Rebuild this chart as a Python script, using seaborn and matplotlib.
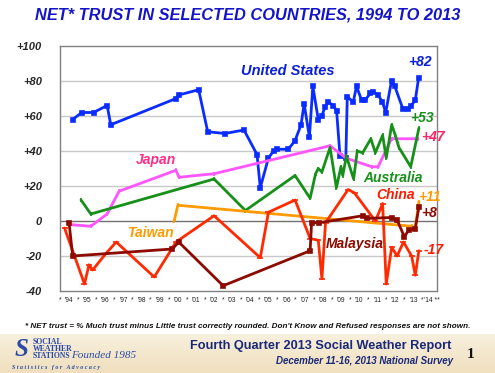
import numpy as np
import pandas as pd
import matplotlib
matplotlib.use("Agg")
import matplotlib.pyplot as plt
import seaborn as sns
from matplotlib.colors import LinearSegmentedColormap

# ---------------- data ----------------
us_x = [1994.2, 1994.7, 1995.35, 1996.1, 1996.3, 1999.9, 2000.05, 2001.15, 2001.65, 2002.6, 2003.65,
        2004.37, 2004.55, 2005.0, 2005.28, 2005.47, 2006.1, 2006.47, 2006.8, 2006.97, 2007.26, 2007.45,
        2007.75, 2007.94, 2008.12, 2008.3, 2008.58, 2008.76, 2008.95, 2009.27, 2009.35, 2009.68, 2009.86,
        2010.14, 2010.32, 2010.63, 2010.77, 2011.05, 2011.29, 2011.47, 2011.79, 2011.97, 2012.42, 2012.7,
        2012.88, 2013.1, 2013.29]
us_y = [58, 62, 62, 66, 55, 70, 72, 75, 51, 50, 52,
        38, 19, 36, 40, 41, 41, 46, 55, 67, 48, 77,
        58, 60, 65, 68, 66, 63, 37, 36, 71, 68, 77,
        69, 69, 73, 74, 72, 68, 62, 80, 77, 64, 64,
        66, 69, 82]

jp_x = [1994.0, 1995.2, 1996.1, 1996.76, 1999.9, 2000.06, 2002.0, 2008.4, 2009.27, 2010.7, 2011.05, 2011.79, 2013.25]
jp_y = [-2, -3, 4, 17, 29, 25, 27, 43, 36, 31, 31, 47, 47]

au_x = [1994.66, 1995.2, 2002.0, 2003.73, 2006.47, 2007.3, 2007.6, 2007.75, 2007.95, 2008.4, 2008.75,
        2009.0, 2009.1, 2009.3, 2009.7, 2009.9, 2010.2, 2010.65, 2010.9, 2011.3, 2011.5, 2011.8,
        2012.0, 2012.2, 2012.85, 2013.3]
au_y = [12, 4, 24, 6, 26, 13, 27, 30, 28, 42, 19,
        31, 26, 37, 24, 40, 39, 47, 39, 49, 36, 55,
        49, 42, 31, 53]

tw_x = [1999.8, 2000.0, 2012.9, 2013.1, 2013.3]
tw_y = [0, 9, -3, -4, 11]

cn_x = [1993.75, 1994.85, 1995.1, 1995.3, 1996.0, 1996.6, 1998.7, 1999.9, 2002.0, 2004.55, 2005.0,
        2006.47, 2007.3, 2007.75, 2007.95, 2008.15, 2009.4, 2009.75, 2010.9, 2011.3, 2011.5, 2011.8,
        2012.1, 2012.45, 2012.9, 2013.1, 2013.3]
cn_y = [-4, -36, -25, -28, -19, -12, -32, -12, 3, -21, 5,
        12, -10, -11, -33, -1, 18, 16, 0, 10, -36, -15,
        -20, -12, -20, -31, -17]

my_x = [1994.0, 1994.2, 1999.7, 2000.05, 2002.5, 2007.3, 2007.38, 2007.8, 2010.2, 2010.45, 2011.8,
        2012.1, 2012.5, 2012.75, 2013.1, 2013.3]
my_y = [-1, -20, -16, -12, -37, -17, -1, -1, 3, 1.5, 2,
        0.5, -9, -5, -4.5, 8]

year_ticks = list(range(1994, 2015))
year_labels = ["'%02d" % (y % 100) for y in year_ticks]
year_labels[-1] = "'14 **"
y_ticks = [-40, -20, 0, 20, 40, 60, 80, 100]
y_labels = ["-40", "-20", "0", "+20", "+40", "+60", "+80", "+100"]

series = [
    ("United States", us_x, us_y, "#0a2cff", "s", 3.2),
    ("Japan", jp_x, jp_y, "#ff55ff", "|", 3.0),
    ("Australia", au_x, au_y, "#17901a", "|", 3.0),
    ("Taiwan", tw_x, tw_y, "#ff9a00", "|", 3.0),
    ("China", cn_x, cn_y, "#ff2a00", "_", 4.0),
    ("Malaysia", my_x, my_y, "#8c0a00", "s", 3.0),
]

# ---------------- figure ----------------
sns.set_style("white")
plt.rcParams['font.family'] = ['Liberation Sans', 'DejaVu Sans']

fig = plt.figure(figsize=(4.95, 3.73), dpi=100)

# footer band
bg = fig.add_axes([0, 0, 1, 39 / 373], zorder=-5)
grad = np.linspace(0, 1, 100).reshape(-1, 1)
cmap = LinearSegmentedColormap.from_list("beige", ["#efdfbd", "#f8f0de"])
bg.imshow(grad, aspect="auto", cmap=cmap, extent=[0, 1, 0, 1], origin="lower")
bg.axis("off")

ax = fig.add_axes([60 / 495, 1 - 291 / 373, 377 / 495, 245 / 373])

for name, xs, ys, col, mk, ms in series:
    df = pd.DataFrame({"x": xs, "y": ys})
    sns.lineplot(data=df, x="x", y="y", ax=ax, color=col, linewidth=2.0,
                 marker=mk, markersize=ms, markeredgecolor=col, markerfacecolor=col,
                 markeredgewidth=1.2, sort=False, estimator=None, zorder=3)

ax.set_xlim(1993.5, 2014.3)
ax.set_ylim(-40, 100)
ax.set_xlabel("")
ax.set_ylabel("")

ax.set_yticks(y_ticks)
ax.set_yticklabels(y_labels, fontsize=8, fontweight="bold", fontstyle="italic")
star_pos = [y - 0.5 for y in year_ticks]
ax.set_xticks(year_ticks + star_pos)
ax.set_xticklabels(year_labels + ["*"] * len(star_pos), fontsize=4.8, color="#222222")
ax.tick_params(axis="both", length=0)
ax.tick_params(axis="y", pad=13)
ax.tick_params(axis="x", pad=4)

for v in [-20, 20, 40, 60, 80]:
    ax.axhline(v, color="#c8c8c8", linewidth=1.0, zorder=1)
ax.axhline(0, color="#707070", linewidth=1.0, zorder=1)
for s in ax.spines.values():
    s.set_color("#808080")
    s.set_linewidth(1.0)

# series labels
lab = dict(fontweight="bold", fontstyle="italic", ha="center", va="center", zorder=5)
ax.text(2006.09, 85.5, "United States", color="#0a1fd8", fontsize=10.5, **lab)
ax.text(1998.78, 35, "Japan", color="#ff2f88", fontsize=10, **lab)
ax.text(2011.86, 24.6, "Australia", color="#17901a", fontsize=10, **lab)
ax.text(1998.5, -7, "Taiwan", color="#ff9a00", fontsize=10, **lab)
ax.text(2012.0, 15, "China", color="#ff1a00", fontsize=10, **lab)
ax.text(2009.77, -13, "Malaysia", color="#8c0a00", fontsize=10, **lab)
ax.text(2013.34, 91, "+82", color="#0a1fd8", fontsize=10, clip_on=False, **lab)
ax.text(2013.45, 59, "+53", color="#17901a", fontsize=10, clip_on=False, **lab)
ax.text(2014.1, 48, "+47", color="#ff2266", fontsize=10, clip_on=False, **lab)
ax.text(2013.9, 13.7, "+11", color="#ff9a00", fontsize=10, clip_on=False, **lab)
ax.text(2013.85, 4.6, "+8", color="#8c0a00", fontsize=10, clip_on=False, **lab)
ax.text(2014.1, -16.6, "-17", color="#ff1a00", fontsize=10, clip_on=False, **lab)

# title
fig.text(0.5, 1 - 15 / 373, "NET* TRUST IN SELECTED COUNTRIES, 1994 TO 2013", color="#1414c8",
         fontsize=11.8, fontweight="bold", fontstyle="italic", ha="center", va="center")

# footnote
fig.text(0.5, 1 - 327 / 373,
         "* NET trust = % Much trust minus Little trust correctly rounded. Don't Know and Refused responses are not shown.",
         fontsize=5.9, fontweight="bold", fontstyle="italic", ha="center", va="center", color="#111111")

# footer texts
fig.text(321 / 495, 1 - 346 / 373, "Fourth Quarter 2013 Social Weather Report", color="#1a2878",
         fontsize=9.2, fontweight="bold", ha="center", va="center")
fig.text(453 / 495, 1 - 361 / 373, "December 11-16, 2013 National Survey", color="#1a2878",
         fontsize=7.0, fontweight="bold", fontstyle="italic", ha="right", va="center")
fig.text(471 / 495, 1 - 355 / 373, "1", color="#111111", fontsize=11, fontweight="bold",
         family="Liberation Serif", ha="center", va="center")

# logo
fig.text(21 / 495, 1 - 349 / 373, "S", color="#2b4aa8", fontsize=18, fontweight="bold",
         fontstyle="italic", family="Liberation Serif", ha="center", va="center")
for i, w in enumerate(["SOCIAL", "WEATHER", "STATIONS"]):
    fig.text(33 / 495, 1 - (342 + i * 7) / 373, w, color="#2b4aa8", fontsize=5.6, fontweight="bold",
             family="Liberation Serif", ha="left", va="center")
fig.text(71 / 495, 1 - 355 / 373, "Founded 1985", color="#2b4aa8", fontsize=8, fontstyle="italic",
         family="Liberation Serif", ha="left", va="center")
fig.text(12 / 495, 1 - 367 / 373, "S t a t i s t i c s   f o r   A d v o c a c y", color="#2b4aa8",
         fontsize=4.3, fontweight="bold", fontstyle="italic", family="Liberation Serif", ha="left", va="center")

fig.savefig("out.png", dpi=100)
